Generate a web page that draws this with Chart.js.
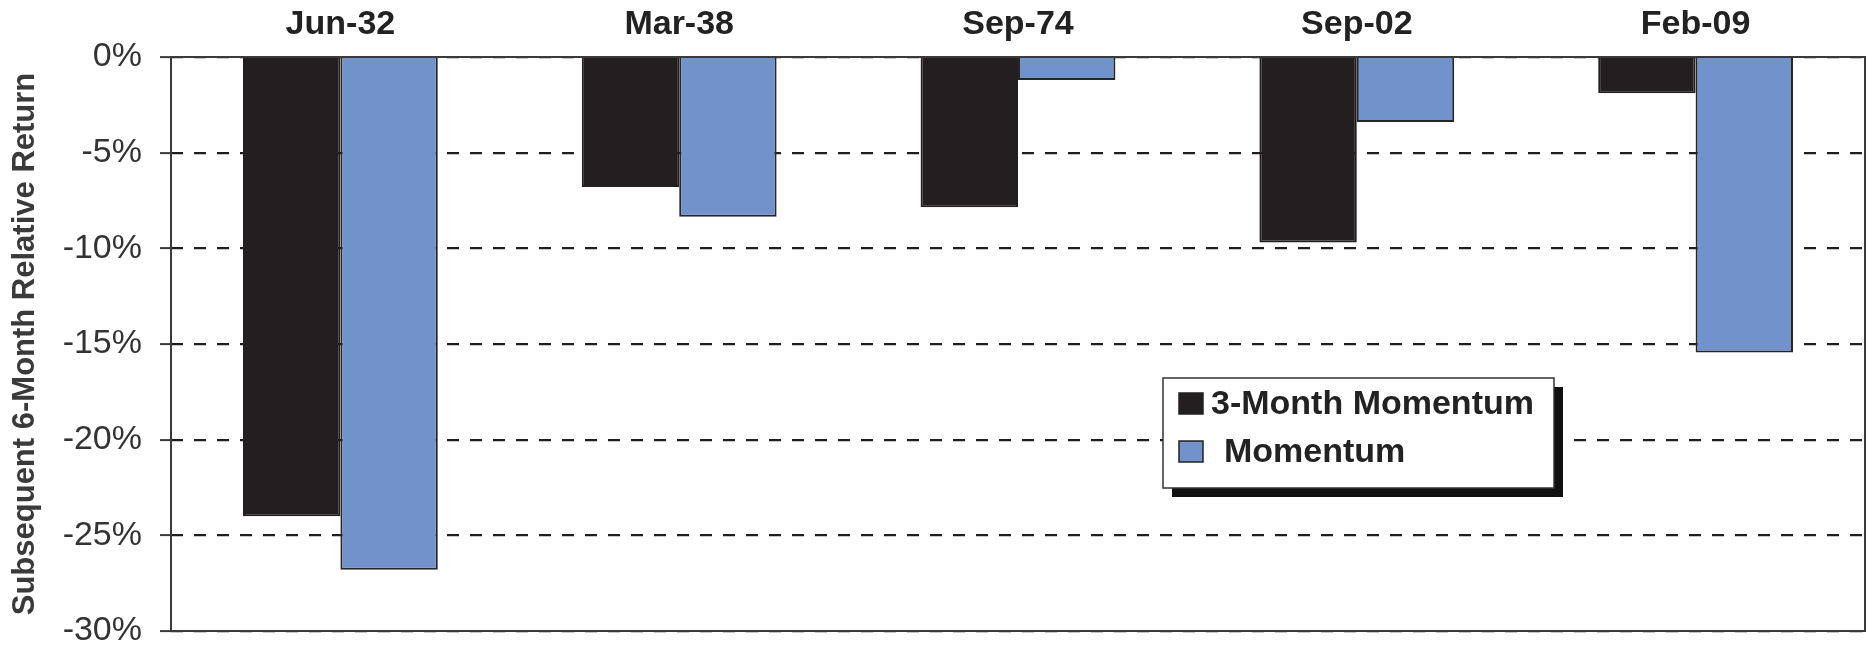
<!DOCTYPE html>
<html>
<head>
<meta charset="utf-8">
<title>Subsequent 6-Month Relative Return</title>
<script src="https://cdn.jsdelivr.net/npm/chart.js@4.4.1/dist/chart.umd.min.js"></script>
<style>
  html, body { margin: 0; padding: 0; background: #fff; }
  #wrap { width: 1866px; height: 647px; position: relative; }
</style>
</head>
<body>
<div id="wrap"><canvas id="chart"></canvas></div>
<script>
// Episodes and the relative return in the six months after each one (%)
const episodes = ['Jun-32', 'Mar-38', 'Sep-74', 'Sep-02', 'Feb-09'];
const threeMonthMomentum = [-24.0, -6.8, -7.85, -9.7, -1.9];
const momentum = [-26.8, -8.35, -1.2, -3.4, -15.45];
const yTicks = { min: -30, max: 0, step: 5 };

const FONT = '"Liberation Sans", Arial, sans-serif';
Chart.defaults.font.family = FONT;

// box around the plot area: solid top, right, bottom and left edges
const frame = {
  id: 'frame',
  afterDatasetsDraw(chart) {
    const { ctx, chartArea: a } = chart;
    ctx.save();
    ctx.strokeStyle = '#3a3a3a';
    ctx.lineWidth = 2;
    ctx.setLineDash([]);
    ctx.strokeRect(a.left, a.top, a.right - a.left, a.bottom - a.top);
    ctx.restore();
  }
};

// boxed legend with a drop shadow, sitting inside the plot
const boxLegend = {
  id: 'boxLegend',
  afterDraw(chart, args, opts) {
    const { ctx } = chart;
    const { left, top, width, height, shadow } = opts;
    ctx.save();
    ctx.fillStyle = '#111';
    ctx.fillRect(left + shadow, top + shadow, width, height);
    ctx.fillStyle = '#fff';
    ctx.fillRect(left, top, width, height);
    ctx.strokeStyle = '#333';
    ctx.lineWidth = 1.5;
    ctx.strokeRect(left, top, width, height);

    ctx.font = 'bold 34px ' + FONT;
    ctx.textBaseline = 'middle';
    chart.data.datasets.forEach((ds, i) => {
      const cy = top + 26 + i * 48;
      ctx.fillStyle = ds.backgroundColor;
      ctx.fillRect(left + 16, cy - 11, 24, 21);
      ctx.strokeStyle = '#222';
      ctx.lineWidth = 1.5;
      ctx.strokeRect(left + 16, cy - 11, 24, 21);
      ctx.fillStyle = '#222';
      ctx.fillText(ds.label, left + 48 + (opts.indent[i] || 0), cy + 1);
    });
    ctx.restore();
  }
};

new Chart(document.getElementById('chart'), {
  type: 'bar',
  data: {
    labels: episodes,
    datasets: [
      {
        label: '3-Month Momentum',
        data: threeMonthMomentum,
        backgroundColor: '#231f20',
        borderColor: '#231f20',
        borderWidth: 2
      },
      {
        label: 'Momentum',
        data: momentum,
        backgroundColor: '#7192ca',
        borderColor: '#262626',
        borderWidth: 2
      }
    ]
  },
  options: {
    responsive: true,
    maintainAspectRatio: false,
    animation: false,
    layout: { padding: { left: 0, right: 1, top: 0, bottom: 16 } },
    datasets: { bar: { categoryPercentage: 0.575, barPercentage: 1.0 } },
    plugins: {
      legend: { display: false },
      tooltip: { enabled: false },
      boxLegend: { left: 1163, top: 378, width: 391, height: 110, shadow: 9, indent: [0, 13] }
    },
    scales: {
      x: {
        position: 'top',
        grid: { display: false, drawTicks: false },
        border: { display: false },
        ticks: {
          color: '#222',
          font: { size: 34, weight: 'bold' },
          padding: 12
        },
        afterFit(s) { s.height = 57; }
      },
      y: {
        min: yTicks.min,
        max: yTicks.max,
        border: { display: false, dash: [12, 11] },
        grid: {
          color: '#1e1e1e',
          lineWidth: 2.2,
          drawTicks: true,
          tickLength: 11,
          tickBorderDash: [],
          tickColor: '#3a3a3a',
          tickWidth: 2
        },
        ticks: {
          stepSize: yTicks.step,
          color: '#333',
          font: { size: 34 },
          padding: 18,
          callback: v => v + '%'
        },
        title: {
          display: true,
          text: 'Subsequent 6-Month Relative Return',
          color: '#3a3a3a',
          font: { size: 31, weight: 'bold' },
          padding: { top: 7, bottom: 0 }
        },
        afterFit(s) {
          s.width = 171;
          // let the end tick labels overhang the plot instead of shrinking it
          s.paddingTop = 0;
          s.paddingBottom = 0;
        }
      }
    }
  },
  plugins: [frame, boxLegend]
});
</script>
</body>
</html>
